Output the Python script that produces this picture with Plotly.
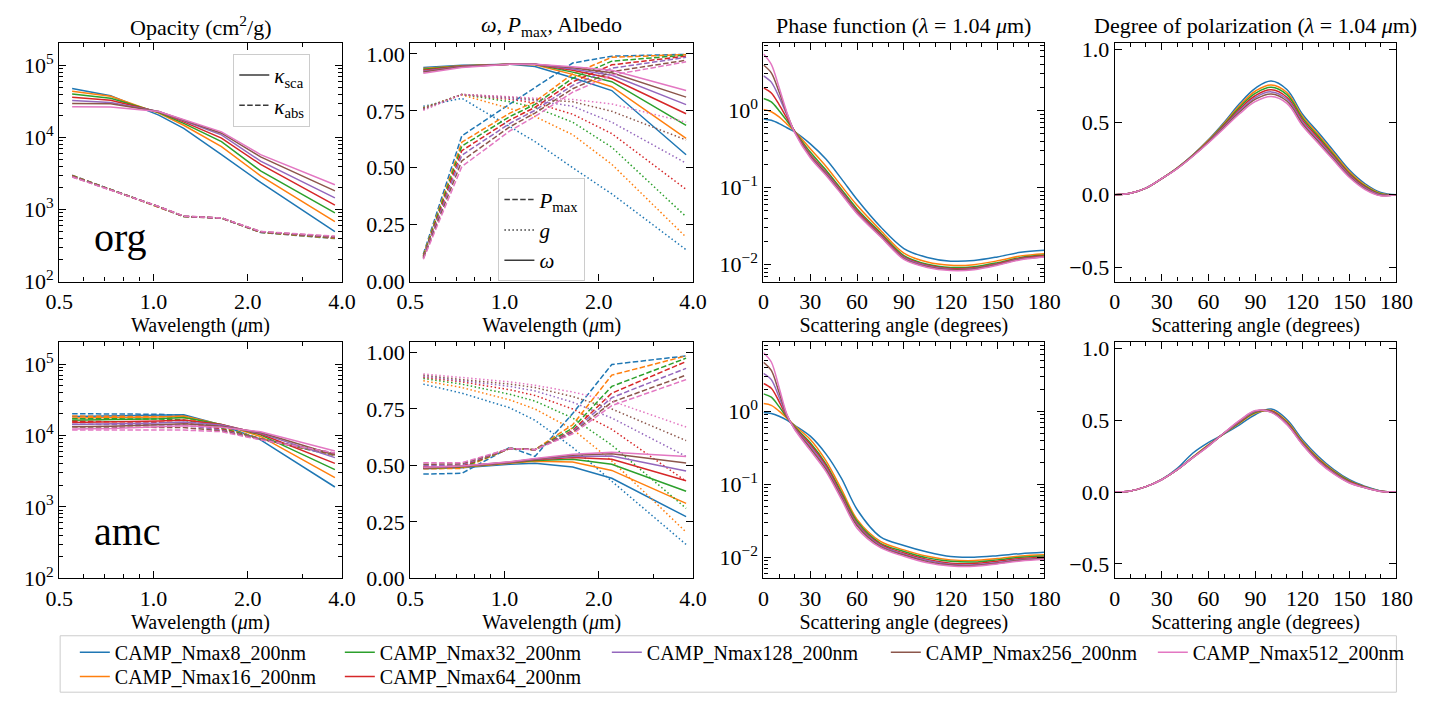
import plotly.graph_objects as go
from plotly.subplots import make_subplots

# wavelengths (um) and scattering angles (deg)
wavelength = [0.55, 0.73, 1.04, 1.25, 1.65, 2.2, 3.8]
angle_phase = [0, 5, 10, 15, 20, 30, 40, 50, 60, 75, 90, 105, 120, 135, 150, 165, 180]
angle_pol = [0, 10, 20, 30, 40, 50, 60, 70, 80, 90, 100, 110, 120, 130, 140, 150, 160, 170, 180]

labels = ["CAMP_Nmax8_200nm", "CAMP_Nmax16_200nm", "CAMP_Nmax32_200nm", "CAMP_Nmax64_200nm",
          "CAMP_Nmax128_200nm", "CAMP_Nmax256_200nm", "CAMP_Nmax512_200nm"]
colors = ["#1f77b4", "#ff7f0e", "#2ca02c", "#d62728", "#9467bd", "#8c564b", "#e377c2"]

# --- org ---
org_ksca = [
    [48000, 38000, 20500, 13400, 5800, 2380, 495],
    [44000, 37500, 21800, 14800, 7500, 2940, 680],
    [40300, 35100, 22300, 15700, 8800, 3440, 900],
    [36300, 33000, 22700, 16500, 9800, 4240, 1150],
    [32600, 30600, 23000, 17000, 10900, 4700, 1450],
    [29600, 29400, 23000, 17500, 11500, 5380, 1820],
    [26700, 26500, 23000, 17800, 12000, 5800, 2210],
]
org_kabs = [
    [3000, 1910, 1090, 800, 760, 480, 395],
    [2980, 1905, 1092, 800, 760, 482, 400],
    [2950, 1900, 1094, 802, 761, 485, 405],
    [2920, 1895, 1096, 804, 762, 488, 410],
    [2890, 1890, 1098, 806, 763, 491, 415],
    [2860, 1885, 1100, 808, 764, 494, 420],
    [2830, 1880, 1102, 810, 765, 497, 428],
]
org_omega = [
    [0.940, 0.950, 0.955, 0.945, 0.895, 0.839, 0.557],
    [0.936, 0.948, 0.955, 0.952, 0.910, 0.856, 0.629],
    [0.932, 0.947, 0.955, 0.954, 0.920, 0.878, 0.686],
    [0.928, 0.946, 0.955, 0.955, 0.928, 0.892, 0.737],
    [0.924, 0.945, 0.955, 0.955, 0.934, 0.906, 0.777],
    [0.920, 0.943, 0.955, 0.955, 0.939, 0.917, 0.810],
    [0.915, 0.940, 0.955, 0.955, 0.943, 0.928, 0.839],
]
org_pmax = [
    [0.120, 0.640, 0.780, 0.853, 0.960, 0.990, 0.998],
    [0.115, 0.612, 0.740, 0.790, 0.912, 0.985, 0.997],
    [0.112, 0.595, 0.725, 0.778, 0.893, 0.968, 0.995],
    [0.108, 0.575, 0.710, 0.765, 0.877, 0.952, 0.990],
    [0.105, 0.555, 0.695, 0.752, 0.862, 0.937, 0.985],
    [0.102, 0.530, 0.680, 0.740, 0.847, 0.922, 0.972],
    [0.098, 0.505, 0.662, 0.725, 0.832, 0.907, 0.965],
]
org_g = [
    [0.770, 0.805, 0.680, 0.615, 0.500, 0.385, 0.140],
    [0.764, 0.820, 0.760, 0.725, 0.645, 0.515, 0.195],
    [0.762, 0.822, 0.790, 0.765, 0.700, 0.590, 0.285],
    [0.760, 0.822, 0.800, 0.785, 0.735, 0.650, 0.405],
    [0.758, 0.822, 0.805, 0.795, 0.770, 0.700, 0.520],
    [0.756, 0.822, 0.810, 0.800, 0.790, 0.748, 0.622],
    [0.752, 0.822, 0.812, 0.805, 0.800, 0.780, 0.700],
]
org_phase = [
    [0.78, 0.75, 0.68, 0.60, 0.53, 0.37, 0.235, 0.13, 0.070, 0.031, 0.0162, 0.0124, 0.0111, 0.0113, 0.0126, 0.0145, 0.0154],
    [1.04, 0.97, 0.83, 0.67, 0.54, 0.32, 0.19, 0.105, 0.059, 0.028, 0.0141, 0.0108, 0.0098, 0.0100, 0.0112, 0.0130, 0.0139],
    [1.44, 1.30, 1.00, 0.74, 0.54, 0.29, 0.17, 0.095, 0.053, 0.026, 0.0131, 0.0101, 0.0092, 0.0094, 0.0106, 0.0124, 0.0133],
    [1.98, 1.70, 1.20, 0.80, 0.54, 0.27, 0.16, 0.090, 0.050, 0.025, 0.0126, 0.0098, 0.0089, 0.0091, 0.0103, 0.0121, 0.0130],
    [2.84, 2.35, 1.50, 0.88, 0.53, 0.26, 0.155, 0.087, 0.048, 0.024, 0.0123, 0.0096, 0.0087, 0.0089, 0.0101, 0.0119, 0.0128],
    [3.92, 3.10, 1.75, 0.92, 0.53, 0.255, 0.150, 0.085, 0.047, 0.0235, 0.0120, 0.0094, 0.0086, 0.0088, 0.0100, 0.0118, 0.0127],
    [5.46, 4.00, 2.00, 0.95, 0.52, 0.245, 0.145, 0.082, 0.046, 0.0230, 0.0117, 0.0092, 0.0084, 0.0086, 0.0098, 0.0116, 0.0126],
]
org_pol = [
    [0, 0.01, 0.045, 0.11, 0.185, 0.275, 0.380, 0.500, 0.630, 0.735, 0.784, 0.725, 0.555, 0.430, 0.300, 0.170, 0.075, 0.015, 0],
    [0, 0.01, 0.045, 0.11, 0.184, 0.273, 0.376, 0.492, 0.616, 0.715, 0.757, 0.705, 0.540, 0.415, 0.285, 0.158, 0.065, 0.008, 0],
    [0, 0.01, 0.045, 0.11, 0.183, 0.271, 0.372, 0.485, 0.604, 0.700, 0.741, 0.690, 0.528, 0.403, 0.274, 0.148, 0.058, 0.004, 0],
    [0, 0.01, 0.045, 0.11, 0.182, 0.270, 0.368, 0.478, 0.592, 0.684, 0.723, 0.672, 0.514, 0.390, 0.264, 0.140, 0.052, 0.000, 0],
    [0, 0.01, 0.045, 0.11, 0.182, 0.268, 0.365, 0.472, 0.582, 0.671, 0.709, 0.660, 0.502, 0.378, 0.255, 0.132, 0.046, -0.003, 0],
    [0, 0.01, 0.045, 0.11, 0.181, 0.267, 0.362, 0.465, 0.572, 0.659, 0.695, 0.646, 0.489, 0.366, 0.245, 0.125, 0.040, -0.006, 0],
    [0, 0.01, 0.045, 0.11, 0.180, 0.265, 0.358, 0.458, 0.560, 0.643, 0.677, 0.630, 0.475, 0.355, 0.235, 0.118, 0.035, -0.008, 0],
]

# --- amc ---
amc_ksca = [
    [18500, 18700, 19000, 19500, 14000, 8700, 1900],
    [17600, 17800, 18200, 18700, 14200, 9700, 2570],
    [16400, 16600, 17200, 17800, 14300, 10200, 3330],
    [15200, 15400, 16000, 16500, 14200, 10500, 4070],
    [14300, 14500, 15000, 15500, 14000, 10700, 4900],
    [13300, 13500, 14100, 14600, 13500, 11000, 5330],
    [12300, 12500, 13200, 13700, 13000, 11300, 6050],
]
amc_kabs = [
    [20200, 20000, 19800, 19000, 13500, 9000, 5200],
    [18700, 18600, 18400, 17800, 13000, 9000, 5300],
    [17200, 17100, 17000, 16500, 12600, 9000, 5400],
    [15800, 15700, 15600, 15200, 12200, 8900, 5500],
    [14400, 14300, 14300, 14000, 11900, 8900, 5600],
    [13200, 13100, 13100, 12900, 11600, 8800, 5650],
    [11900, 11900, 12000, 11900, 11300, 8700, 5700],
]
amc_omega = [
    [0.485, 0.490, 0.505, 0.510, 0.493, 0.443, 0.273],
    [0.487, 0.492, 0.510, 0.518, 0.515, 0.478, 0.332],
    [0.488, 0.494, 0.512, 0.522, 0.527, 0.505, 0.386],
    [0.489, 0.495, 0.513, 0.525, 0.535, 0.527, 0.432],
    [0.490, 0.496, 0.514, 0.527, 0.540, 0.542, 0.475],
    [0.491, 0.497, 0.515, 0.529, 0.545, 0.552, 0.511],
    [0.492, 0.498, 0.516, 0.531, 0.550, 0.558, 0.540],
]
amc_pmax = [
    [0.462, 0.465, 0.580, 0.540, 0.730, 0.947, 0.985],
    [0.485, 0.487, 0.575, 0.570, 0.680, 0.900, 0.985],
    [0.490, 0.492, 0.575, 0.570, 0.665, 0.850, 0.975],
    [0.495, 0.497, 0.575, 0.570, 0.655, 0.820, 0.960],
    [0.500, 0.502, 0.575, 0.570, 0.650, 0.800, 0.930],
    [0.505, 0.507, 0.575, 0.570, 0.645, 0.780, 0.900],
    [0.512, 0.512, 0.575, 0.570, 0.640, 0.765, 0.880],
]
amc_g = [
    [0.860, 0.820, 0.755, 0.700, 0.580, 0.430, 0.150],
    [0.875, 0.845, 0.790, 0.750, 0.660, 0.520, 0.205],
    [0.885, 0.860, 0.815, 0.785, 0.710, 0.590, 0.310],
    [0.890, 0.870, 0.835, 0.810, 0.750, 0.660, 0.430],
    [0.895, 0.875, 0.850, 0.830, 0.780, 0.710, 0.540],
    [0.900, 0.880, 0.860, 0.845, 0.805, 0.750, 0.610],
    [0.905, 0.890, 0.870, 0.855, 0.825, 0.785, 0.670],
]
amc_phase = [
    [0.96, 0.93, 0.85, 0.75, 0.64, 0.455, 0.26, 0.12, 0.045, 0.019, 0.0145, 0.0118, 0.0102, 0.0100, 0.0105, 0.0112, 0.0117],
    [1.27, 1.20, 1.00, 0.80, 0.63, 0.41, 0.21, 0.085, 0.033, 0.0165, 0.0126, 0.0103, 0.0092, 0.0090, 0.0096, 0.0104, 0.0108],
    [1.72, 1.55, 1.15, 0.82, 0.61, 0.37, 0.19, 0.077, 0.031, 0.0155, 0.0120, 0.0098, 0.0088, 0.0086, 0.0092, 0.0100, 0.0104],
    [2.39, 2.05, 1.35, 0.84, 0.59, 0.35, 0.18, 0.072, 0.029, 0.0150, 0.0114, 0.0093, 0.0083, 0.0082, 0.0088, 0.0096, 0.0100],
    [3.28, 2.70, 1.55, 0.86, 0.58, 0.33, 0.17, 0.068, 0.028, 0.0145, 0.0110, 0.0090, 0.0080, 0.0079, 0.0085, 0.0093, 0.0097],
    [4.64, 3.60, 1.80, 0.88, 0.57, 0.31, 0.16, 0.065, 0.027, 0.0140, 0.0107, 0.0087, 0.0078, 0.0077, 0.0083, 0.0091, 0.0095],
    [6.30, 4.70, 2.10, 0.90, 0.56, 0.29, 0.15, 0.062, 0.025, 0.0135, 0.0103, 0.0084, 0.0076, 0.0075, 0.0081, 0.0089, 0.0094],
]
amc_pol = [
    [0, 0.008, 0.038, 0.088, 0.165, 0.272, 0.346, 0.405, 0.470, 0.540, 0.578, 0.505, 0.365, 0.250, 0.157, 0.086, 0.040, 0.008, 0],
    [0, 0.008, 0.038, 0.087, 0.157, 0.245, 0.330, 0.408, 0.482, 0.550, 0.568, 0.492, 0.352, 0.237, 0.148, 0.080, 0.037, 0.007, 0],
    [0, 0.008, 0.038, 0.087, 0.156, 0.243, 0.327, 0.409, 0.486, 0.556, 0.565, 0.485, 0.345, 0.230, 0.142, 0.076, 0.035, 0.007, 0],
    [0, 0.008, 0.038, 0.087, 0.156, 0.242, 0.325, 0.410, 0.490, 0.560, 0.562, 0.480, 0.340, 0.225, 0.138, 0.072, 0.034, 0.006, 0],
    [0, 0.008, 0.038, 0.086, 0.156, 0.241, 0.323, 0.411, 0.494, 0.563, 0.559, 0.476, 0.336, 0.220, 0.134, 0.068, 0.032, 0.006, 0],
    [0, 0.008, 0.038, 0.086, 0.156, 0.240, 0.322, 0.412, 0.497, 0.565, 0.557, 0.473, 0.333, 0.216, 0.130, 0.065, 0.031, 0.005, 0],
    [0, 0.008, 0.038, 0.086, 0.156, 0.240, 0.320, 0.413, 0.500, 0.567, 0.555, 0.470, 0.330, 0.212, 0.126, 0.063, 0.030, 0.005, 0],
]

# legend layout: matplotlib ncol=5, filled column by column
legend_of = ["legend", "legend4", "legend", "legend4", "legend", "legend", "legend"]
legend_w = [220, 220, 222, 222, 234, 222, 230]

DASH = "5.5px,2.4px"
DOT = "1.5px,2.5px"
FONT = "Liberation Serif, Times New Roman, Times, serif"

fig = make_subplots(rows=2, cols=4)


def add_line(x, y, row, col, color, dash="solid", shape="linear", i=None, smooth=0.9):
    if i is not None:
        extra = dict(name=labels[i], showlegend=True, legend=legend_of[i], legendwidth=legend_w[i])
    else:
        extra = dict(showlegend=False)
    fig.add_trace(
        go.Scatter(x=x, y=y, mode="lines", hoverinfo="skip",
                   line=dict(color=color, width=1.5, dash=dash, shape=shape, smoothing=smooth),
                   **extra),
        row=row, col=col,
    )


rows = [
    (1, org_ksca, org_kabs, org_omega, org_pmax, org_g, org_phase, org_pol),
    (2, amc_ksca, amc_kabs, amc_omega, amc_pmax, amc_g, amc_phase, amc_pol),
]
for row, ksca, kabs, omega, pmax, g, phase, pol in rows:
    for i, c in enumerate(colors):
        add_line(wavelength, ksca[i], row, 1, c)
        add_line(wavelength, kabs[i], row, 1, c, DASH)
        add_line(wavelength, pmax[i], row, 2, c, DASH)
        add_line(wavelength, g[i], row, 2, c, DOT)
        add_line(wavelength, omega[i], row, 2, c)
        add_line(angle_phase, phase[i], row, 3, c, shape="spline")
        add_line(angle_pol, pol[i], row, 4, c, shape="spline", i=i if row == 1 else None, smooth=1.1)

# line style keys inside panels
for name, dash, leg in [("<i>κ</i><sub>sca</sub>", "solid", "legend2"),
                        ("<i>κ</i><sub>abs</sub>", DASH, "legend2"),
                        ("<i>P</i><sub>max</sub>", DASH, "legend3"),
                        ("<i>g</i>", DOT, "legend3"),
                        ("<i>ω</i>", "solid", "legend3")]:
    fig.add_trace(go.Scatter(x=[None], y=[None], mode="lines", name=name, legend=leg,
                             line=dict(color="#3a3a3a", width=1.5, dash=dash)))

# the page puts the figure 8 px in from the window edge
OFF = 8
W, H = 1440 - 2 * OFF, 720 - 2 * OFF


def px(x):
    return (x - OFF) / W


def py(y):
    return 1 - (y - OFF) / H


col_px = [(46, 335), (405, 694), (766, 1053), (1125, 1413)]
row_px = [(38, 283), (345, 588)]

axis_style = dict(
    showline=True, linecolor="black", linewidth=1.2, mirror="allticks",
    ticks="inside", ticklen=7, tickwidth=1.2, tickcolor="black",
    showgrid=False, zeroline=False, tickfont=dict(size=22),
)
minor_style = dict(ticks="inside", ticklen=4, tickwidth=1, tickcolor="black", showgrid=False)

log_minor = lambda lo, hi: [m * 10 ** e for e in range(lo, hi) for m in range(2, 10)]

for r, (t, b) in enumerate(row_px, start=1):
    for c, (l, rr) in enumerate(col_px, start=1):
        xdom = [px(l), px(rr)]
        ydom = [py(b), py(t)]
        if c in (1, 2):
            fig.update_xaxes(type="log", range=[-0.30103, 0.60206], domain=xdom,
                             tickvals=[0.5, 1, 2, 4], ticktext=["0.5", "1.0", "2.0", "4.0"],
                             minor=dict(tickvals=[0.6, 0.7, 0.8, 0.9, 3], **minor_style),
                             title=dict(text="Wavelength (<i>μ</i>m)", font=dict(size=20), standoff=0),
                             row=r, col=c, **axis_style)
        else:
            fig.update_xaxes(range=[0, 180], domain=xdom, tickvals=[0, 30, 60, 90, 120, 150, 180],
                             minor=dict(tickvals=list(range(10, 180, 10)), **minor_style),
                             title=dict(text="Scattering angle (degrees)", font=dict(size=20), standoff=0),
                             row=r, col=c, **axis_style)
        if c == 1:
            fig.update_yaxes(type="log", range=[2, 5.31], domain=ydom,
                             tickvals=[1e2, 1e3, 1e4, 1e5],
                             ticktext=["10<sup>2</sup>", "10<sup>3</sup>", "10<sup>4</sup>", "10<sup>5</sup>"],
                             minor=dict(tickvals=log_minor(2, 6), **minor_style),
                             row=r, col=c, **axis_style)
        elif c == 2:
            fig.update_yaxes(range=[0, 1.047], domain=ydom, tickvals=[0, 0.25, 0.5, 0.75, 1.0],
                             ticktext=["0.00", "0.25", "0.50", "0.75", "1.00"],
                             row=r, col=c, **axis_style)
        elif c == 3:
            rng = [-2.22, 0.877] if r == 1 else [-2.289, 0.947]
            fig.update_yaxes(type="log", range=rng, domain=ydom, tickvals=[0.01, 0.1, 1],
                             ticktext=["10<sup>−2</sup>", "10<sup>−1</sup>", "10<sup>0</sup>"],
                             minor=dict(tickvals=log_minor(-3, 1), **minor_style),
                             row=r, col=c, **axis_style)
        else:
            fig.update_yaxes(range=[-0.6, 1.045], domain=ydom, tickvals=[-0.5, 0, 0.5, 1.0],
                             ticktext=["−0.5", "0.0", "0.5", "1.0"],
                             row=r, col=c, **axis_style)

titles = ["Opacity (cm<sup>2</sup>/g)", "<i>ω</i>, <i>P</i><sub>max</sub>, Albedo",
          "Phase function (<i>λ</i> = 1.04 <i>μ</i>m)", "Degree of polarization (<i>λ</i> = 1.04 <i>μ</i>m)"]
for (l, rr), text in zip(col_px, titles):
    fig.add_annotation(text=text, x=px((l + rr) / 2), y=py(20), xref="paper", yref="paper",
                       showarrow=False, font=dict(size=22), xanchor="center", yanchor="middle")

fig.add_annotation(text="org", x=px(80), y=py(238), xref="paper", yref="paper", showarrow=False,
                   font=dict(size=40), xanchor="left", yanchor="middle")
fig.add_annotation(text="amc", x=px(80), y=py(540), xref="paper", yref="paper", showarrow=False,
                   font=dict(size=40), xanchor="left", yanchor="middle")

# legend frame
fig.add_shape(type="rect", xref="paper", yref="paper", x0=px(47), x1=px(1413), y0=py(705), y1=py(647),
              line=dict(color="#cccccc", width=1), fillcolor="rgba(0,0,0,0)")

main_legend = dict(orientation="h", x=px(62), xanchor="left", yanchor="middle", font=dict(size=20),
                   bgcolor="rgba(0,0,0,0)", borderwidth=0, traceorder="normal")
fig.update_layout(
    width=W, height=H,
    margin=dict(l=0, r=0, t=0, b=0),
    paper_bgcolor="white", plot_bgcolor="white",
    font=dict(family=FONT, size=20, color="black"),
    legend=dict(y=py(664), **main_legend),
    legend4=dict(y=py(689), **main_legend),
    legend2=dict(x=px(224), y=py(49), xanchor="left", yanchor="top", font=dict(size=21),
                 bgcolor="white", bordercolor="#cccccc", borderwidth=1),
    legend3=dict(x=px(495), y=py(177), xanchor="left", yanchor="top", font=dict(size=21),
                 bgcolor="white", bordercolor="#cccccc", borderwidth=1),
)

fig.write_html("out.html")
